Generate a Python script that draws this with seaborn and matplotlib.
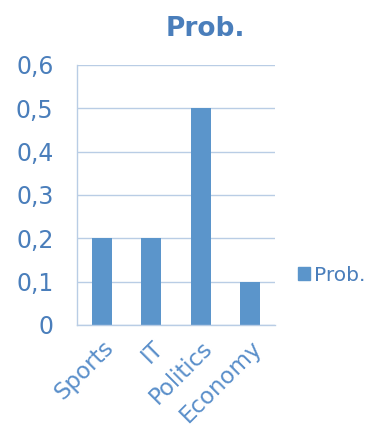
import matplotlib
matplotlib.use("Agg")
import matplotlib.pyplot as plt
import seaborn as sns
import pandas as pd
from matplotlib.ticker import FuncFormatter, FixedLocator

# data
categories = ["Sports", "IT", "Politics", "Economy"]
probs = [0.2, 0.2, 0.5, 0.1]
y_ticks = [0, 0.1, 0.2, 0.3, 0.4, 0.5, 0.6]

bar_color = "#5B95CB"
text_color = "#4A7EBB"
xlab_color = "#5A8FCA"
grid_color = "#B9CDE5"

sns.set_theme(style="white")
plt.rcParams['font.family'] = ['DejaVu Sans']

df = pd.DataFrame({"cat": categories, "Prob.": probs})

fig = plt.figure(figsize=(3.87, 4.32), dpi=100)
ax = fig.add_axes([0.199, 0.2477, 0.512, 0.6019])

sns.barplot(data=df, x="cat", y="Prob.", color=bar_color, width=0.4,
            saturation=1, ax=ax, label="Prob.", legend=False, linewidth=0)

ax.set_xlim(-0.5, len(categories) - 0.5)
ax.set_ylim(0, 0.6)
ax.set_yticks(y_ticks)
ax.yaxis.set_major_formatter(FuncFormatter(
    lambda v, p: "0" if v == 0 else f"{v:.1f}".replace(".", ",")))
ax.grid(axis="y", color=grid_color, linewidth=1)
ax.set_axisbelow(True)

ax.xaxis.set_minor_locator(FixedLocator([i - 0.5 for i in range(len(categories) + 1)]))
ax.tick_params(axis="x", which="major", length=0, pad=8)
ax.tick_params(axis="x", which="minor", length=7, width=1, color=grid_color, direction="out")
ax.tick_params(axis="y", length=7, width=1, color=grid_color, direction="out", pad=10)
ax.tick_params(axis="y", labelcolor=text_color, labelsize=17)
ax.tick_params(axis="x", labelcolor=xlab_color, labelsize=16.5)
for lab in ax.get_xticklabels():
    lab.set_rotation(45)
    lab.set_ha("right")
    lab.set_rotation_mode("anchor")

for s in ["top", "right"]:
    ax.spines[s].set_visible(False)
for s in ["left", "bottom"]:
    ax.spines[s].set_color(grid_color)
    ax.spines[s].set_linewidth(1)

ax.set_xlabel("")
ax.set_ylabel("")
fig.text(0.53, 0.933, "Prob.", ha="center", va="center", fontsize=19,
         fontweight="bold", color=text_color)

handles = [plt.Rectangle((0, 0), 1, 1, color=bar_color)]
leg = fig.legend(handles, ["Prob."], loc="center left", bbox_to_anchor=(0.745, 0.363),
                 frameon=False, fontsize=14.5, handlelength=0.6, handleheight=0.6,
                 handletextpad=0.2, borderpad=0)
for t in leg.get_texts():
    t.set_color(text_color)

fig.savefig("out.png", dpi=100)
